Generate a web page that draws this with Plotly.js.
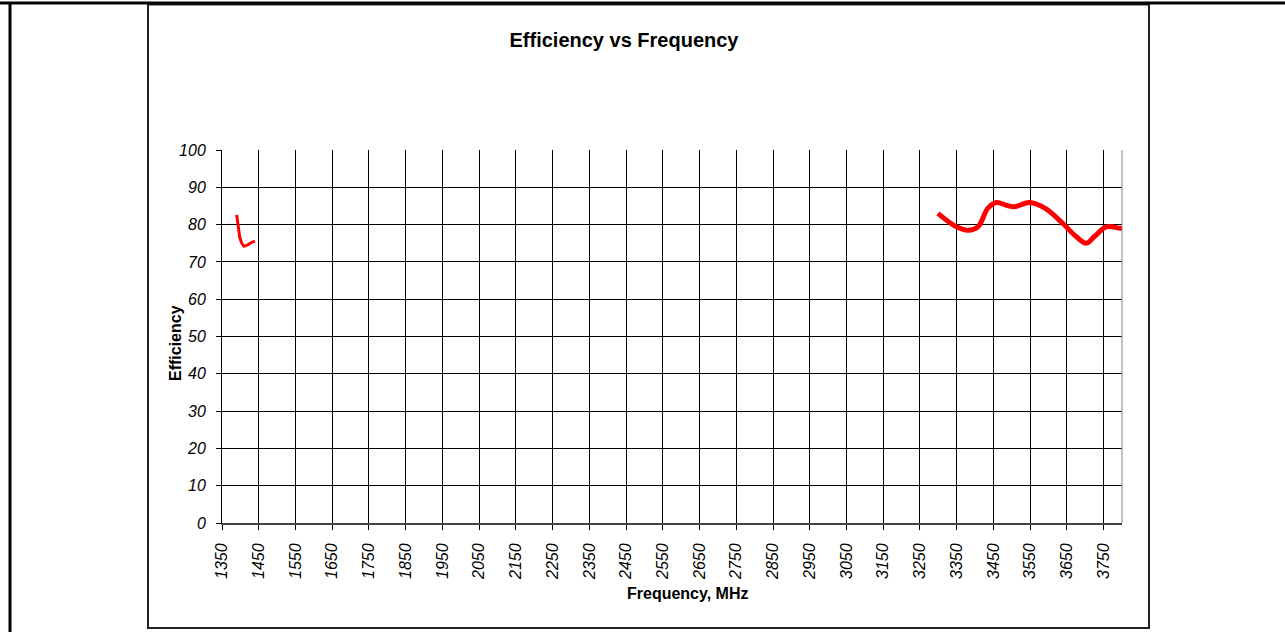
<!DOCTYPE html>
<html>
<head>
<meta charset="utf-8">
<script src="https://cdn.plot.ly/plotly-3.0.1.min.js"></script>
<style>html,body{margin:0;padding:0;background:#fff;}#chart{width:1285px;height:632px;}</style>
</head>
<body>
<div id="chart"></div>
<script>
// Low band (MHz / %)
const lowFreq = [1390, 1395, 1400, 1410, 1420, 1430, 1440];
const lowEff  = [82.6, 79.0, 76.0, 74.2, 74.6, 75.2, 75.5];
// High band (MHz / %)
const highFreq = [3299, 3349, 3381, 3408, 3435, 3458, 3485, 3507, 3549, 3590, 3639, 3675, 3703, 3725, 3757, 3794, 3800];
const highEff  = [83.0, 79.4, 78.5, 79.4, 84.4, 85.9, 85.2, 84.8, 85.9, 84.4, 80.3, 76.8, 75.0, 76.8, 79.4, 79.0, 79.0];
const xTicks = [1350,1450,1550,1650,1750,1850,1950,2050,2150,2250,2350,2450,2550,2650,2750,2850,2950,3050,3150,3250,3350,3450,3550,3650,3750];
const yTicks = [0,10,20,30,40,50,60,70,80,90,100];

const W = 1285, H = 632;
const L = 222, R = 1122, T = 150, B = 523;
const px = v => (v - L) / (R - L);
const py = v => (B - v) / (B - T);

const traces = [
  {x: lowFreq, y: lowEff, mode: 'lines', line: {color: '#ff0000', width: 3, shape: 'spline'}, hoverinfo: 'skip'},
  {x: highFreq, y: highEff, mode: 'lines', line: {color: '#ff0000', width: 5, shape: 'spline'}, hoverinfo: 'skip'}
];

const font = {family: 'Liberation Sans, Arial, sans-serif', color: '#000'};

const layout = {
  width: W, height: H,
  margin: {l: L, r: W - R, t: T, b: H - B, pad: 0},
  paper_bgcolor: '#fff', plot_bgcolor: '#fff',
  showlegend: false,
  title: {text: '<b>Efficiency vs Frequency</b>', font: Object.assign({}, font, {size: 20}),
          x: 624 / W, xanchor: 'center', y: 1 - 40 / H, yanchor: 'middle'},
  xaxis: {
    range: [1350, 3800], tickmode: 'array', tickvals: xTicks, ticktext: xTicks.map(v => '<i>' + v + '</i>'),
    tickangle: -90, ticks: 'outside', ticklen: 5, tickcolor: '#000', tickwidth: 1,
    ticklabelstandoff: 7,
    showgrid: true, gridcolor: '#000', gridwidth: 1,
    showline: true, linecolor: '#444', linewidth: 2, mirror: false,
    zeroline: false, tickfont: Object.assign({}, font, {size: 16})
  },
  yaxis: {
    range: [0, 100], tickmode: 'array', tickvals: yTicks, ticktext: yTicks.map(v => '<i>' + v + '</i>'),
    ticks: 'outside', ticklen: 5, tickcolor: '#000', tickwidth: 1,
    ticklabelstandoff: 7,
    showgrid: true, gridcolor: '#000', gridwidth: 1,
    showline: true, linecolor: '#000', linewidth: 1,
    zeroline: false, tickfont: Object.assign({}, font, {size: 16})
  },
  annotations: [
    {text: '<b>Frequency, MHz</b>', xref: 'paper', yref: 'paper', x: px(688), y: py(593),
     xanchor: 'center', yanchor: 'middle', showarrow: false, font: Object.assign({}, font, {size: 16})},
    {text: '<b>Efficiency</b>', xref: 'paper', yref: 'paper', x: px(175), y: py(343),
     xanchor: 'center', yanchor: 'middle', textangle: -90, showarrow: false, font: Object.assign({}, font, {size: 16})}
  ],
  shapes: [
    {type: 'line', xref: 'paper', yref: 'paper', x0: 1, x1: 1, y0: 0, y1: 1, line: {color: '#888', width: 1}},
    {type: 'rect', xref: 'paper', yref: 'paper', x0: px(148), x1: px(1149), y0: py(4.5), y1: py(628), line: {color: '#222', width: 2}, layer: 'below'},
    {type: 'line', xref: 'paper', yref: 'paper', x0: px(0), x1: px(1285), y0: py(3), y1: py(3), line: {color: '#000', width: 3}},
    {type: 'line', xref: 'paper', yref: 'paper', x0: px(10), x1: px(10), y0: py(2), y1: py(632), line: {color: '#000', width: 3}}
  ]
};

Plotly.newPlot('chart', traces, layout, {staticPlot: true, displayModeBar: false});
</script>
</body>
</html>
